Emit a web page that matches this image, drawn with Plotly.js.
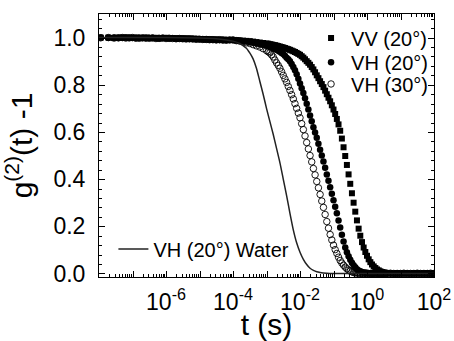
<!DOCTYPE html>
<html>
<head>
<meta charset="utf-8">
<script src="https://cdn.plot.ly/plotly-3.0.1.min.js"></script>
<style>
html,body{margin:0;padding:0;background:#fff;}
#chart{width:454px;height:341px;}
</style>
</head>
<body>
<div id="chart"></div>
<script>
// log10 of delay time t (s) for the measured series
const logT = [-7.95,-7.72,-7.55,-7.42,
  -7.3,-7.2,-7.1,-7.0,-6.9,-6.8,-6.7,-6.6,-6.5,-6.4,-6.3,-6.2,-6.1,-6.0,-5.9,-5.8,-5.7,-5.6,
  -5.5,-5.4,-5.3,-5.2,-5.1,-5.0,-4.9,-4.8,-4.7,-4.6,-4.5,-4.4,-4.3,-4.2,-4.1,
  -4.0,-3.9,-3.8,-3.7,-3.6,-3.5,-3.4,-3.3,-3.2,-3.1,
  -3.0,-2.95,-2.9,-2.85,-2.8,-2.75,-2.7,-2.65,-2.6,-2.55,-2.5,-2.45,-2.4,-2.35,-2.3,-2.25,-2.2,-2.15,-2.1,-2.05,
  -2.0,-1.95,-1.9,-1.85,-1.8,-1.75,-1.7,-1.65,-1.6,-1.55,-1.5,-1.45,-1.4,-1.35,-1.3,-1.25,-1.2,-1.15,-1.1,-1.05,
  -1.0,-0.95,-0.9,-0.85,-0.8,-0.75,-0.7,-0.65,-0.6,-0.55,-0.5,-0.45,-0.4,-0.35,-0.3,-0.25,-0.2,-0.15,-0.1,-0.05,
  0.0,0.05,0.1,0.15,0.2,0.25,0.3,0.35,0.4,0.45,0.5,0.55,0.6,
  0.7,0.8,0.9,1.0,1.1,1.2,1.3,1.4,1.5,1.6,1.7,1.8,1.9,2.0];

const gVV20 = [1.0,1.0,0.998,1.0,
  1.0,0.999,1.0,0.998,1.0,0.999,0.998,1.0,0.999,0.998,0.999,0.997,0.998,0.999,0.997,0.998,0.997,0.996,
  0.997,0.996,0.996,0.995,0.995,0.994,0.994,0.993,0.993,0.992,0.992,0.991,0.991,0.990,0.990,
  0.99,0.989,0.988,0.987,0.986,0.985,0.983,0.981,0.979,0.977,
  0.975,0.974,0.972,0.971,0.969,0.968,0.966,0.964,0.962,0.96,0.958,0.956,0.953,0.951,0.948,0.945,0.942,0.939,0.935,0.931,
  0.927,0.921,0.915,0.908,0.90,0.893,0.885,0.875,0.865,0.853,0.84,0.828,0.815,0.803,0.79,0.775,0.76,0.745,0.73,0.713,
  0.695,0.676,0.655,0.632,0.605,0.572,0.535,0.498,0.46,0.42,0.38,0.34,0.30,0.262,0.225,0.19,0.16,0.133,0.11,0.091,
  0.075,0.06,0.048,0.038,0.03,0.023,0.017,0.013,0.009,0.006,0.004,0.003,0.002,
  0.001,0.0,0.001,0.0,0.001,0.0,0.0,0.001,0.0,0.0,0.001,0.0,0.0,0.0];

const gVH20 = [1.0,0.999,1.0,0.998,
  0.999,1.0,0.998,0.999,0.997,0.999,0.998,0.997,0.998,0.999,0.997,0.996,0.998,0.997,0.996,0.997,0.995,0.996,
  0.995,0.995,0.994,0.994,0.993,0.993,0.992,0.992,0.991,0.991,0.990,0.990,0.989,0.989,0.990,
  0.99,0.988,0.987,0.985,0.983,0.98,0.978,0.975,0.972,0.969,
  0.965,0.963,0.96,0.958,0.955,0.952,0.948,0.944,0.94,0.935,0.93,0.923,0.915,0.908,0.90,0.888,0.875,0.861,0.845,0.826,
  0.805,0.785,0.765,0.743,0.72,0.695,0.67,0.645,0.62,0.598,0.575,0.55,0.525,0.50,0.475,0.448,0.42,0.393,0.365,0.338,
  0.31,0.283,0.255,0.225,0.195,0.164,0.135,0.11,0.09,0.073,0.058,0.045,0.035,0.026,0.018,0.013,0.009,0.006,0.004,0.003,
  0.002,0.001,0.001,0.0,0.0,0.001,0.001,0.0,0.0,0.0,0.0,0.001,0.001,
  0.0,0.0,0.001,0.0,0.0,0.001,0.0,0.0,0.001,0.0,0.0,0.001,0.0,0.0];

const gVH30 = [0.999,1.0,0.998,0.999,
  1.0,0.998,0.999,1.0,0.998,0.997,0.999,0.998,0.997,0.998,0.996,0.997,0.998,0.996,0.997,0.996,0.995,0.996,
  0.995,0.994,0.995,0.994,0.993,0.993,0.992,0.992,0.991,0.991,0.990,0.991,0.990,0.989,0.990,
  0.99,0.987,0.985,0.982,0.978,0.975,0.97,0.965,0.96,0.953,
  0.945,0.94,0.935,0.927,0.918,0.905,0.893,0.882,0.87,0.855,0.84,0.825,0.81,0.793,0.776,0.758,0.74,0.72,0.70,0.68,
  0.66,0.635,0.61,0.583,0.555,0.528,0.50,0.473,0.445,0.418,0.39,0.363,0.335,0.307,0.28,0.25,0.22,0.192,0.165,0.142,
  0.12,0.101,0.085,0.069,0.055,0.044,0.035,0.027,0.02,0.014,0.01,0.007,0.004,0.003,0.002,0.001,0.001,0.0,0.0,0.001,
  0.001,0.0,0.0,0.0,0.001,0.0,0.0,0.001,0.0,0.0,0.0,0.001,0.0,
  0.001,0.0,0.0,0.0,0.001,0.0,0.0,0.0,0.001,0.0,0.0,0.0,0.001,0.0];

// Water reference line
const waterLogT = [-8.0,-6.0,-5.0,-4.5,-4.2,-4.0,-3.8,-3.6,
  -3.5,-3.4,-3.3,-3.2,-3.1,-3.0,-2.9,-2.8,-2.7,-2.6,-2.5,-2.4,-2.3,-2.2,-2.1,-2.0,-1.9,-1.8,-1.7,-1.6,-1.5,-1.4,
  -1.2,-1.0,0.0,2.0];
const waterG = [1.0,1.0,0.998,0.995,0.99,0.985,0.975,0.955,
  0.935,0.91,0.87,0.815,0.76,0.70,0.645,0.59,0.53,0.47,0.40,0.33,0.255,0.185,0.13,0.09,0.06,0.038,0.022,0.013,0.007,0.004,
  0.001,0.0,0.0,0.0];

const seriesNames = ['VV (20°)', 'VH (20°)', 'VH (30°)', 'VH (20°) Water'];
const xTickExps = [-8,-7,-6,-5,-4,-3,-2,-1,0,1,2];
const xTickText = ['','','10<sup>-6</sup>','','10<sup>-4</sup>','','10<sup>-2</sup>','','10<sup>0</sup>','','10<sup>2</sup>'];
const yTickVals = [0,0.2,0.4,0.6,0.8,1.0];

const toT = a => a.map(v => Math.pow(10, v));
const tMeas = toT(logT);

const minorX = [];
for (let e = -8; e < 2; e++) for (let m = 2; m <= 9; m++) minorX.push(m * Math.pow(10, e));

const FONT = 'Liberation Sans, Arial, sans-serif';

const traces = [
  {x: tMeas, y: gVV20, name: seriesNames[0], mode: 'markers', type: 'scatter', legend: 'legend',
   marker: {symbol: 'square', size: 6, color: '#000'}},
  {x: tMeas, y: gVH20, name: seriesNames[1], mode: 'markers', type: 'scatter', legend: 'legend2',
   marker: {symbol: 'circle', size: 6.5, color: '#000'}},
  {x: tMeas, y: gVH30, name: seriesNames[2], mode: 'markers', type: 'scatter', legend: 'legend3',
   marker: {symbol: 'circle-open', size: 6.5, color: '#000', line: {width: 0.9, color: '#000'}}},
  {x: toT(waterLogT), y: waterG, name: seriesNames[3], mode: 'lines', type: 'scatter', legend: 'legend4',
   line: {color: '#222', width: 1.5, shape: 'spline', smoothing: 0.6}}
];

const legBase = {bgcolor: 'rgba(0,0,0,0)', borderwidth: 0, font: {family: FONT, size: 20, color: '#000'},
  xanchor: 'left', yanchor: 'middle', xref: 'paper', yref: 'paper'};

const layout = {
  width: 454, height: 341,
  margin: {l: 99, r: 20, t: 14, b: 64},
  paper_bgcolor: '#fff', plot_bgcolor: '#fff',
  font: {family: FONT, color: '#000'},
  showlegend: true,
  legend: Object.assign({}, legBase, {x: 0.633, y: 0.909}),
  legend2: Object.assign({}, legBase, {x: 0.633, y: 0.817}),
  legend3: Object.assign({}, legBase, {x: 0.633, y: 0.734}),
  legend4: Object.assign({}, legBase, {x: 0.043, y: 0.106}),
  xaxis: {
    type: 'log', range: [-8, 2],
    tickmode: 'array', tickvals: toT(xTickExps), ticktext: xTickText,
    ticks: 'inside', ticklen: 6, tickwidth: 1.3, tickcolor: '#000', layer: 'above traces',
    minor: {tickmode: 'array', tickvals: minorX, ticks: 'inside', ticklen: 3, tickwidth: 1.3, tickcolor: '#000', showgrid: false},
    showline: true, linecolor: '#000', linewidth: 1, mirror: 'allticks',
    showgrid: false, zeroline: false,
    tickfont: {family: FONT, size: 23, color: '#000'},
    ticklabelstandoff: 4,
    title: {text: 't (s)', font: {family: FONT, size: 30, color: '#000'}, standoff: 2}
  },
  yaxis: {
    range: [-0.015, 1.10],
    tickmode: 'array', tickvals: yTickVals, tickformat: '.1f',
    ticks: 'inside', ticklen: 6, tickwidth: 1.3, tickcolor: '#000', layer: 'above traces',
    minor: {dtick: 0.04, tick0: 0, ticks: 'inside', ticklen: 3, tickwidth: 1.3, tickcolor: '#000', showgrid: false},
    showline: true, linecolor: '#000', linewidth: 1, mirror: 'allticks',
    showgrid: false, zeroline: false,
    tickfont: {family: FONT, size: 23, color: '#000'},
    ticklabelstandoff: 8,
    title: {text: 'g<sup>(2)</sup>(t) -1', font: {family: FONT, size: 30, color: '#000'}, standoff: 18}
  }
};

Plotly.newPlot('chart', traces, layout, {staticPlot: true, displayModeBar: false}).then(() => {
  // snap tick marks to whole pixels so 1px ticks render crisp and dark
  document.querySelectorAll('#chart path.xtick, #chart path.ytick').forEach(el => {
    const tr = el.getAttribute('transform');
    if (!tr) return;
    const m = tr.match(/translate\(([-\d.e]+)\s*,\s*([-\d.e]+)\)/);
    if (!m) return;
    const x = parseFloat(m[1]), y = parseFloat(m[2]);
    const isX = el.classList.contains('xtick');
    const nx = isX ? Math.round(x) + 0.5 : x;
    const ny = isX ? y : Math.round(y) + 0.5;
    el.setAttribute('transform', 'translate(' + nx + ',' + ny + ')');
    el.style.strokeWidth = '1px';
    el.style.shapeRendering = 'crispEdges';
  });
});
</script>
</body>
</html>
